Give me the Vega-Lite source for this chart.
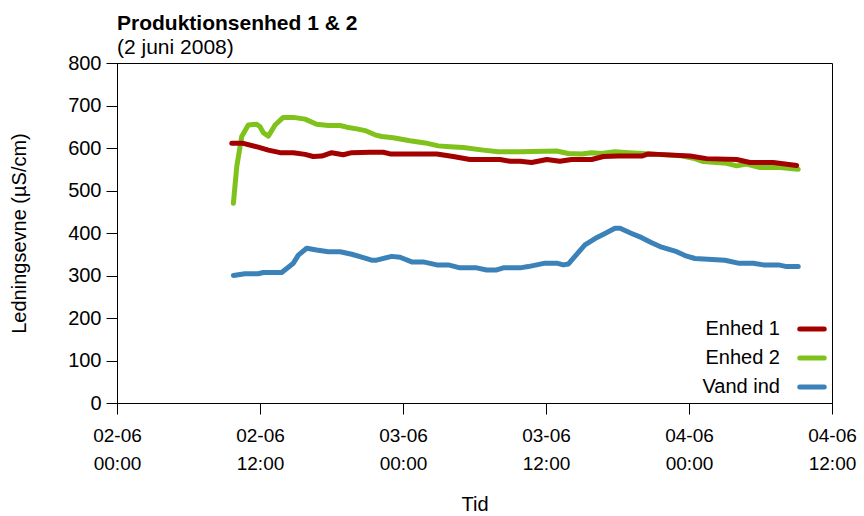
{
  "$schema": "https://vega.github.io/schema/vega-lite/v6.json",
  "autosize": "none",
  "width": 715,
  "height": 340,
  "padding": {"left": 117, "top": 63, "right": 32, "bottom": 113},
  "background": "white",
  "config": {
    "font": "Liberation Sans",
    "view": {"stroke": "#000", "strokeWidth": 1},
    "axis": {"labelColor": "#000", "titleColor": "#000", "domainColor": "#000", "tickColor": "#000", "grid": false, "labelFont": "Liberation Sans", "titleFont": "Liberation Sans", "titleFontWeight": "normal"},
    "title": {"anchor": "start", "frame": "group", "font": "Liberation Sans", "fontSize": 21, "fontWeight": "bold", "color": "#000", "subtitleFont": "Liberation Sans", "subtitleFontSize": 21, "subtitleColor": "#000", "offset": -5, "subtitlePadding": 3}
  },
  "title": {"text": "Produktionsenhed 1 & 2", "subtitle": "(2 juni 2008)"},
  "data": {"values": [
    {"s":"Enhed 2","t":"2008-06-02T09:46","v":470},
    {"s":"Enhed 2","t":"2008-06-02T10:03","v":556},
    {"s":"Enhed 2","t":"2008-06-02T10:28","v":627},
    {"s":"Enhed 2","t":"2008-06-02T11:01","v":654},
    {"s":"Enhed 2","t":"2008-06-02T11:43","v":656},
    {"s":"Enhed 2","t":"2008-06-02T12:00","v":650},
    {"s":"Enhed 2","t":"2008-06-02T12:17","v":636},
    {"s":"Enhed 2","t":"2008-06-02T12:42","v":628},
    {"s":"Enhed 2","t":"2008-06-02T13:16","v":654},
    {"s":"Enhed 2","t":"2008-06-02T13:57","v":672},
    {"s":"Enhed 2","t":"2008-06-02T14:48","v":672},
    {"s":"Enhed 2","t":"2008-06-02T15:47","v":668},
    {"s":"Enhed 2","t":"2008-06-02T16:45","v":656},
    {"s":"Enhed 2","t":"2008-06-02T17:44","v":653},
    {"s":"Enhed 2","t":"2008-06-02T18:43","v":653},
    {"s":"Enhed 2","t":"2008-06-02T19:17","v":649},
    {"s":"Enhed 2","t":"2008-06-02T20:07","v":645},
    {"s":"Enhed 2","t":"2008-06-02T20:49","v":641},
    {"s":"Enhed 2","t":"2008-06-02T21:39","v":631},
    {"s":"Enhed 2","t":"2008-06-02T22:13","v":627},
    {"s":"Enhed 2","t":"2008-06-02T23:11","v":624},
    {"s":"Enhed 2","t":"2008-06-03T00:35","v":617},
    {"s":"Enhed 2","t":"2008-06-03T01:51","v":612},
    {"s":"Enhed 2","t":"2008-06-03T02:58","v":605},
    {"s":"Enhed 2","t":"2008-06-03T03:57","v":603},
    {"s":"Enhed 2","t":"2008-06-03T05:04","v":601},
    {"s":"Enhed 2","t":"2008-06-03T06:44","v":595},
    {"s":"Enhed 2","t":"2008-06-03T08:00","v":591},
    {"s":"Enhed 2","t":"2008-06-03T09:49","v":591},
    {"s":"Enhed 2","t":"2008-06-03T12:54","v":593},
    {"s":"Enhed 2","t":"2008-06-03T13:52","v":587},
    {"s":"Enhed 2","t":"2008-06-03T15:00","v":586},
    {"s":"Enhed 2","t":"2008-06-03T15:50","v":589},
    {"s":"Enhed 2","t":"2008-06-03T16:40","v":587},
    {"s":"Enhed 2","t":"2008-06-03T17:47","v":591},
    {"s":"Enhed 2","t":"2008-06-03T18:55","v":589},
    {"s":"Enhed 2","t":"2008-06-03T20:02","v":587},
    {"s":"Enhed 2","t":"2008-06-03T21:24","v":585},
    {"s":"Enhed 2","t":"2008-06-03T23:15","v":582},
    {"s":"Enhed 2","t":"2008-06-04T00:22","v":576},
    {"s":"Enhed 2","t":"2008-06-04T01:12","v":568},
    {"s":"Enhed 2","t":"2008-06-04T03:10","v":564},
    {"s":"Enhed 2","t":"2008-06-04T04:00","v":558},
    {"s":"Enhed 2","t":"2008-06-04T04:50","v":562},
    {"s":"Enhed 2","t":"2008-06-04T05:58","v":554},
    {"s":"Enhed 2","t":"2008-06-04T07:38","v":554},
    {"s":"Enhed 2","t":"2008-06-04T09:10","v":550},
    {"s":"Enhed 1","t":"2008-06-02T09:38","v":611},
    {"s":"Enhed 1","t":"2008-06-02T10:36","v":611},
    {"s":"Enhed 1","t":"2008-06-02T11:51","v":602},
    {"s":"Enhed 1","t":"2008-06-02T12:42","v":595},
    {"s":"Enhed 1","t":"2008-06-02T13:41","v":589},
    {"s":"Enhed 1","t":"2008-06-02T14:48","v":589},
    {"s":"Enhed 1","t":"2008-06-02T15:47","v":585},
    {"s":"Enhed 1","t":"2008-06-02T16:28","v":580},
    {"s":"Enhed 1","t":"2008-06-02T17:11","v":581},
    {"s":"Enhed 1","t":"2008-06-02T18:01","v":589},
    {"s":"Enhed 1","t":"2008-06-02T18:59","v":584},
    {"s":"Enhed 1","t":"2008-06-02T19:42","v":589},
    {"s":"Enhed 1","t":"2008-06-02T21:14","v":590},
    {"s":"Enhed 1","t":"2008-06-02T22:21","v":590},
    {"s":"Enhed 1","t":"2008-06-02T22:55","v":586},
    {"s":"Enhed 1","t":"2008-06-03T02:50","v":586},
    {"s":"Enhed 1","t":"2008-06-03T04:13","v":580},
    {"s":"Enhed 1","t":"2008-06-03T05:37","v":573},
    {"s":"Enhed 1","t":"2008-06-03T08:08","v":573},
    {"s":"Enhed 1","t":"2008-06-03T08:59","v":569},
    {"s":"Enhed 1","t":"2008-06-03T09:49","v":569},
    {"s":"Enhed 1","t":"2008-06-03T10:48","v":566},
    {"s":"Enhed 1","t":"2008-06-03T12:04","v":573},
    {"s":"Enhed 1","t":"2008-06-03T13:10","v":569},
    {"s":"Enhed 1","t":"2008-06-03T14:09","v":573},
    {"s":"Enhed 1","t":"2008-06-03T15:50","v":573},
    {"s":"Enhed 1","t":"2008-06-03T16:49","v":580},
    {"s":"Enhed 1","t":"2008-06-03T18:04","v":581},
    {"s":"Enhed 1","t":"2008-06-03T20:02","v":581},
    {"s":"Enhed 1","t":"2008-06-03T20:35","v":586},
    {"s":"Enhed 1","t":"2008-06-03T21:25","v":585},
    {"s":"Enhed 1","t":"2008-06-04T00:05","v":581},
    {"s":"Enhed 1","t":"2008-06-04T01:29","v":575},
    {"s":"Enhed 1","t":"2008-06-04T04:00","v":573},
    {"s":"Enhed 1","t":"2008-06-04T05:07","v":566},
    {"s":"Enhed 1","t":"2008-06-04T07:04","v":566},
    {"s":"Enhed 1","t":"2008-06-04T09:02","v":559},
    {"s":"Vand ind","t":"2008-06-02T09:46","v":300},
    {"s":"Vand ind","t":"2008-06-02T10:44","v":304},
    {"s":"Vand ind","t":"2008-06-02T11:51","v":304},
    {"s":"Vand ind","t":"2008-06-02T12:17","v":307},
    {"s":"Vand ind","t":"2008-06-02T13:49","v":307},
    {"s":"Vand ind","t":"2008-06-02T14:48","v":329},
    {"s":"Vand ind","t":"2008-06-02T15:13","v":348},
    {"s":"Vand ind","t":"2008-06-02T15:55","v":364},
    {"s":"Vand ind","t":"2008-06-02T16:45","v":360},
    {"s":"Vand ind","t":"2008-06-02T17:44","v":356},
    {"s":"Vand ind","t":"2008-06-02T18:43","v":356},
    {"s":"Vand ind","t":"2008-06-02T19:42","v":350},
    {"s":"Vand ind","t":"2008-06-02T20:32","v":343},
    {"s":"Vand ind","t":"2008-06-02T21:22","v":336},
    {"s":"Vand ind","t":"2008-06-02T21:47","v":336},
    {"s":"Vand ind","t":"2008-06-02T23:03","v":345},
    {"s":"Vand ind","t":"2008-06-02T23:45","v":343},
    {"s":"Vand ind","t":"2008-06-03T00:44","v":332},
    {"s":"Vand ind","t":"2008-06-03T01:42","v":332},
    {"s":"Vand ind","t":"2008-06-03T02:50","v":325},
    {"s":"Vand ind","t":"2008-06-03T03:48","v":325},
    {"s":"Vand ind","t":"2008-06-03T04:47","v":318},
    {"s":"Vand ind","t":"2008-06-03T06:11","v":318},
    {"s":"Vand ind","t":"2008-06-03T07:01","v":313},
    {"s":"Vand ind","t":"2008-06-03T07:52","v":313},
    {"s":"Vand ind","t":"2008-06-03T08:25","v":318},
    {"s":"Vand ind","t":"2008-06-03T09:49","v":318},
    {"s":"Vand ind","t":"2008-06-03T10:31","v":321},
    {"s":"Vand ind","t":"2008-06-03T11:55","v":329},
    {"s":"Vand ind","t":"2008-06-03T12:54","v":329},
    {"s":"Vand ind","t":"2008-06-03T13:27","v":325},
    {"s":"Vand ind","t":"2008-06-03T13:52","v":327},
    {"s":"Vand ind","t":"2008-06-03T15:16","v":372},
    {"s":"Vand ind","t":"2008-06-03T16:07","v":387},
    {"s":"Vand ind","t":"2008-06-03T16:57","v":399},
    {"s":"Vand ind","t":"2008-06-03T17:47","v":411},
    {"s":"Vand ind","t":"2008-06-03T18:13","v":411},
    {"s":"Vand ind","t":"2008-06-03T19:11","v":399},
    {"s":"Vand ind","t":"2008-06-03T20:02","v":389},
    {"s":"Vand ind","t":"2008-06-03T20:52","v":377},
    {"s":"Vand ind","t":"2008-06-03T21:34","v":368},
    {"s":"Vand ind","t":"2008-06-03T22:58","v":356},
    {"s":"Vand ind","t":"2008-06-03T23:40","v":347},
    {"s":"Vand ind","t":"2008-06-04T00:30","v":340},
    {"s":"Vand ind","t":"2008-06-04T03:01","v":336},
    {"s":"Vand ind","t":"2008-06-04T04:08","v":329},
    {"s":"Vand ind","t":"2008-06-04T05:24","v":329},
    {"s":"Vand ind","t":"2008-06-04T06:14","v":325},
    {"s":"Vand ind","t":"2008-06-04T07:30","v":325},
    {"s":"Vand ind","t":"2008-06-04T08:12","v":321},
    {"s":"Vand ind","t":"2008-06-04T09:10","v":321}
  ]},
  "mark": {"type": "line", "strokeWidth": 5, "strokeCap": "round", "strokeJoin": "round"},
  "encoding": {
    "x": {"field": "t", "type": "temporal",
      "scale": {"domain": [{"year": 2008, "month": 6, "date": 2, "hours": 0}, {"year": 2008, "month": 6, "date": 4, "hours": 12}], "nice": false},
      "axis": {
        "values": [
          {"year": 2008, "month": 6, "date": 2, "hours": 0},
          {"year": 2008, "month": 6, "date": 2, "hours": 12},
          {"year": 2008, "month": 6, "date": 3, "hours": 0},
          {"year": 2008, "month": 6, "date": 3, "hours": 12},
          {"year": 2008, "month": 6, "date": 4, "hours": 0},
          {"year": 2008, "month": 6, "date": 4, "hours": 12}
        ],
        "labelExpr": "[timeFormat(datum.value, '%d-%m'), timeFormat(datum.value, '%H:%M')]", "labelFontSize": 19, "labelLineHeight": 28, "tickSize": 11, "labelPadding": 12, "labelFlush": false, "title": "Tid", "titleFontSize": 20, "titlePadding": 21}},
    "y": {"field": "v", "type": "quantitative",
      "scale": {"domain": [0, 800], "nice": false},
      "axis": {"values": [0,100,200,300,400,500,600,700,800], "labelFontSize": 20, "tickSize": 11, "labelPadding": 5, "title": "Ledningsevne (µS/cm)", "titleFontSize": 20, "titlePadding": 38}},
    "color": {"field": "s", "type": "nominal",
      "scale": {"domain": ["Enhed 1", "Enhed 2", "Vand ind"], "range": ["#a30000", "#7fc21b", "#3b82b9"]},
      "legend": {"orient": "none", "legendX": 680, "legendY": 251, "padding": 0, "title": null, "labelFontSize": 20, "labelColor": "#000", "labelAlign": "right", "labelOffset": -47, "symbolType": "stroke", "symbolSize": 600, "symbolStrokeWidth": 5, "rowPadding": 4,
        "encode": {"symbols": {"update": {"strokeCap": {"value": "round"}}}}}}
  }
}
